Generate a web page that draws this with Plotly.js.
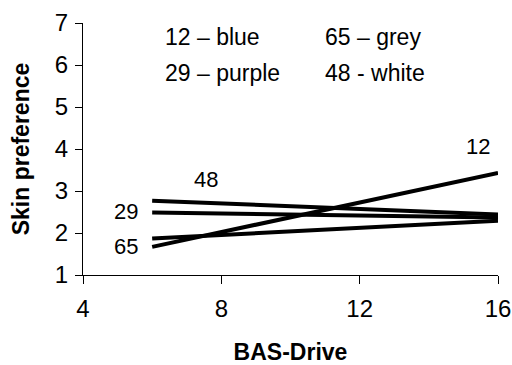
<!DOCTYPE html>
<html>
<head>
<meta charset="utf-8">
<script src="https://cdn.plot.ly/plotly-3.0.1.min.js"></script>
<style>html,body{margin:0;padding:0;background:#fff}#chart{width:512px;height:365px}</style>
</head>
<body>
<div id="chart"></div>
<script>
// Data
const bas = [6, 16];
const series = ["12", "65", "29", "48"];
const pref12 = [1.67, 3.43];
const pref65 = [1.87, 2.29];
const pref29 = [2.49, 2.37];
const pref48 = [2.77, 2.44];
const legendTexts = ["12 \u2013 blue", "65 \u2013 grey", "29 \u2013 purple", "48 - white"];
const xTicks = [4, 8, 12, 16];
const yTicks = [1, 2, 3, 4, 5, 6, 7];

const values = [pref12, pref65, pref29, pref48];
const font = "Arial, 'Liberation Sans', sans-serif";

const traces = values.map((v, i) => ({
  x: bas, y: v, type: 'scatter', mode: 'lines', name: series[i],
  line: {color: '#000', width: 4}, cliponaxis: false, hoverinfo: 'skip'
}));

// label positions (data coords)
const labelPos = [[15.43, 4.05], [5.24, 1.68], [5.24, 2.52], [7.56, 3.28]];
const legendPos = [[6.31, 6.67], [10.93, 6.67], [6.31, 5.81], [10.93, 5.81]];

const annotations = [];
series.forEach((s, i) => annotations.push({
  x: labelPos[i][0], y: labelPos[i][1], xref: 'x', yref: 'y', text: s,
  showarrow: false, font: {family: font, size: 22, color: '#000'}
}));
legendTexts.forEach((t, i) => annotations.push({
  x: legendPos[i][0], y: legendPos[i][1], xref: 'x', yref: 'y', text: t,
  xanchor: 'left', showarrow: false, font: {family: font, size: 23, color: '#000'}
}));

const layout = {
  width: 512, height: 365,
  margin: {l: 83, r: 14, t: 23, b: 90, pad: 0},
  paper_bgcolor: '#fff', plot_bgcolor: '#fff',
  showlegend: false,
  font: {family: font, color: '#000'},
  xaxis: {
    range: [4, 16], tickvals: xTicks, ticktext: xTicks.map(String),
    showgrid: false, zeroline: false, showline: true, linecolor: '#000', linewidth: 1,
    ticks: 'outside', ticklen: 8, tickcolor: '#000', tickwidth: 1,
    tickfont: {family: font, size: 24, color: '#000'}, ticklabelstandoff: 4,
    title: {text: '<b>BAS-Drive</b>', font: {family: font, size: 23, color: '#000'}, standoff: 29},
    automargin: false, fixedrange: true
  },
  yaxis: {
    range: [1, 7], tickvals: yTicks, ticktext: yTicks.map(String),
    showgrid: false, zeroline: false, showline: true, linecolor: '#000', linewidth: 1,
    ticks: 'outside', ticklen: 7, tickcolor: '#000', tickwidth: 1,
    tickfont: {family: font, size: 24, color: '#000'}, ticklabelstandoff: 2,
    title: {text: '<b>Skin preference</b>', font: {family: font, size: 23, color: '#000'}, standoff: 18},
    automargin: false, fixedrange: true
  },
  annotations: annotations
};

Plotly.newPlot('chart', traces, layout, {staticPlot: true, displayModeBar: false});
</script>
</body>
</html>
